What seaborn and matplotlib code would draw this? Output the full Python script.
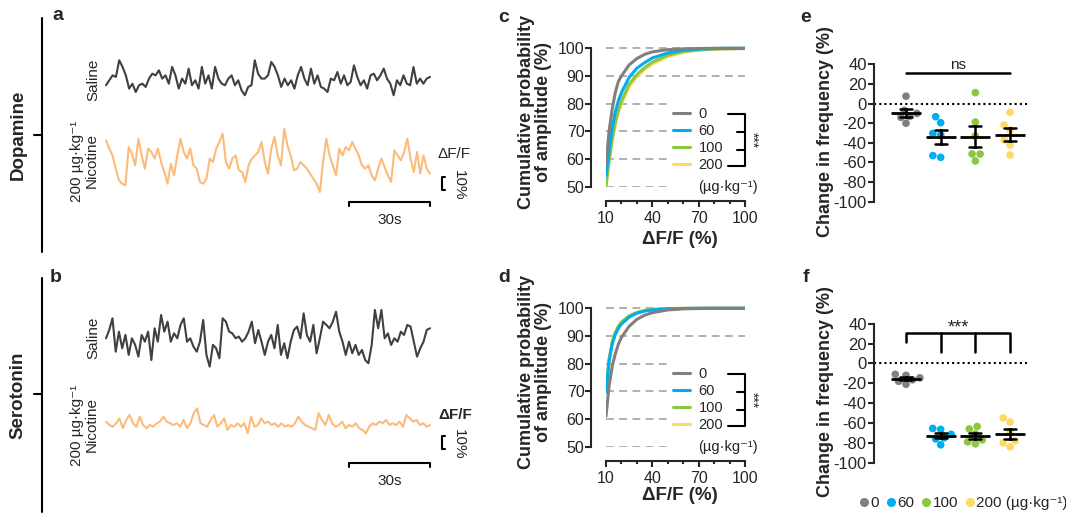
import numpy as np
import pandas as pd
import matplotlib.pyplot as plt
from matplotlib.lines import Line2D
import seaborn as sns

# ---------------------------------------------------------------
# data
# ---------------------------------------------------------------

# a/b: example photometry traces, dF/F (%) relative to each trace's baseline, ~120 s
da_saline = [-3.8, 0, 3.8, 2.6, 15.4, 10.3, 3.8, -6.4, -2.6, -9.0, -3.8, -2.6, -5.1, 1.3, 5.1,
             3.8, 7.7, 1.3, 3.8, -2.6, 10.3, 3.8, -6.4, 1.3, -2.6, 9.0, -3.8, 0, -6.4, 10.3,
             -2.6, 3.8, -6.4, 10.3, 1.3, -2.6, -3.8, 1.3, 3.8, -3.8, 0, -7.7, -11.5, -5.1, -3.8,
             15.4, 5.1, 1.3, 1.3, 3.8, 14.1, 10.3, 3.8, -5.1, 1.3, -3.8, 0, -6.4, 3.8, 10.3,
             1.3, -3.8, 9.0, -2.6, 3.8, -5.1, -6.4, -9.0, 1.3, 0, 6.4, -2.6, 3.8, -3.8, -1.3,
             11.5, 2.6, -3.8, 0, -6.4, 3.8, 5.1, 0, 3.8, 9.0, 1.3, -2.6, -11.5, 0, -3.8,
             3.8, -2.6, -3.8, 10.3, -2.6, 1.3, -2.6, 1.3, 2.6]
da_nicotine = [16.7, 10.3, 5.1, -5.1, -14.1, -16.7, -17.9, 11.5, 6.4, -2.6, 17.9, 5.1, -5.1, 10.3,
               7.7, 2.6, 10.3, 0, -7.7, -16.7, -1.3, -10.3, 5.1, 17.9, 7.7, 2.6, 10.3, -2.6, -5.1,
               -15.4, -16.7, -12.8, 2.6, 0, 10.3, 15.4, 21.8, 0, -5.1, 2.6, 5.1, -6.4, -7.7, -15.4,
               -2.6, 2.6, 5.1, 7.7, 15.4, 0, -9.0, 10.3, 19.2, 5.1, -2.6, 25.6, 12.8, 5.1, -6.4,
               -5.1, 0, -2.6, -5.1, -9.0, -12.8, -16.7, -23.1, 0, 17.9, 5.1, -2.6, -10.3, 10.3,
               5.1, 11.5, 9.0, 15.4, 10.3, 5.1, -2.6, -5.1, -2.6, -10.3, -14.1, -5.1, 2.6, -3.8,
               -10.3, -15.4, 9.0, 5.1, 1.3, 7.7, 17.9, 2.6, -7.7, 7.7, -9.0, 5.1, -5.1, -9.0]
ht_saline = [0, 6.4, 15.4, -10.3, 5.1, -7.7, 2.6, -12.8, 0, -5.1, -14.1, 2.6, -2.6, 5.1, -16.7,
             7.7, -2.6, 17.9, 5.1, 12.8, -2.6, 3.8, 0, 10.3, 15.4, -2.6, 0, -6.4, -10.3, -2.6,
             14.1, -12.8, -21.8, -5.1, -7.7, -15.4, 15.4, 12.8, 5.1, 3.8, 0, 1.3, -2.6, 0, 5.1,
             12.8, -3.8, 6.4, -2.6, -12.8, -2.6, 2.6, -7.7, 10.3, -12.8, -3.8, -15.4, -2.6, 6.4,
             9.0, 0, 19.2, 2.6, -2.6, 10.3, -11.5, 0, 12.8, 10.3, 7.7, 12.8, 20.5, 5.1, -2.6,
             -12.8, -2.6, -11.5, -5.1, -12.8, -9.0, -16.7, -19.2, -5.1, 21.8, 7.7, 21.8, 0, 3.8,
             -5.1, 0, -2.6, 5.1, 2.6, 10.3, 9.0, -2.6, -14.1, -7.7, -2.6, 6.4, 7.7]
ht_nicotine = [1.3, -1.3, -2.6, 0, 3.8, -3.8, 2.6, 6.4, 0, -2.6, 5.1, -1.3, -3.8, -1.3, -2.6, 0,
               1.3, 5.1, 1.3, 0, -1.3, 0, -2.6, 2.6, -3.8, 0, 7.7, 11.5, 0, -1.3, -2.6, 2.6, 6.4,
               -2.6, 0, 3.8, -5.1, -1.3, -2.6, 0, -2.6, 0, -7.7, 5.1, -2.6, -1.3, 3.8, 0, 1.3,
               -1.3, 0, -2.6, 0, -2.6, -1.3, -2.6, 0, 5.1, 1.3, -1.3, -2.6, -3.8, -5.1, 7.7, 2.6,
               -1.3, 6.4, 0, -2.6, -1.3, 1.3, -3.8, -1.3, -2.6, 0, -3.8, -5.1, -7.7, -2.6, 0,
               -1.3, 1.3, 0, 2.6, -1.3, 0, -1.3, 1.3, -2.6, 6.4, 3.8, 1.3, 2.6, -1.3, 0, -2.6, -1.3]
trace_seconds = 120

# c/d: cumulative probability of amplitude (%) at these dF/F values
amp_x = [10, 12, 14, 16, 18, 20, 25, 30, 35, 40, 50, 60, 70, 80, 90, 100]
doses = ["0", "60", "100", "200"]
cdf_da_0 = [58, 70, 78, 84, 88, 90, 94, 96.3, 97.8, 98.7, 99.5, 99.8, 99.9, 100, 100, 100]
cdf_da_60 = [54, 63, 71, 77, 81, 84, 89.5, 92.8, 94.8, 96.5, 98.3, 99.3, 99.7, 99.9, 100, 100]
cdf_da_100 = [50, 59, 67, 73, 77.5, 81, 87, 90.5, 93, 95, 97.5, 98.8, 99.4, 99.7, 99.8, 99.9]
cdf_da_200 = [52.5, 60, 67, 72.5, 77, 80, 86, 89.7, 92.3, 94.3, 97, 98.5, 99.3, 99.7, 99.9, 100]
cdf_ht_0 = [61, 72, 79, 83.5, 87, 89.5, 93.5, 96, 97.5, 98.4, 99.4, 99.8, 99.9, 100, 100, 100]
cdf_ht_60 = [70, 81, 87, 90.5, 92.8, 94.3, 96.8, 98.2, 99, 99.4, 99.8, 99.9, 100, 100, 100, 100]
cdf_ht_100 = [69.5, 81.5, 87.8, 91.2, 93.5, 95, 97.3, 98.5, 99.2, 99.6, 99.9, 100, 100, 100, 100, 100]
cdf_ht_200 = [70, 81.3, 87.5, 91, 93.2, 94.7, 97, 98.4, 99.1, 99.5, 99.8, 99.9, 100, 100, 100, 100]

# e/f: change in event frequency (%) per animal
freq_da_0 = [7.5, -7, -10, -13, -14, -20]
freq_da_60 = [-13.4, -19.5, -30.4, -32, -53, -54.8]
freq_da_100 = [11.1, -18.8, -33, -51.4, -51.4, -58.5]
freq_da_200 = [-9, -21.8, -27, -37, -42.3, -52.4]
freq_ht_0 = [-11, -12, -14.5, -16.5, -18, -21]
freq_ht_60 = [-65.5, -66.5, -71.5, -75, -76, -82]
freq_ht_100 = [-63.5, -66, -71, -77, -79, -81]
freq_ht_200 = [-55, -59, -69, -78, -80, -84]

cdf_colors = {"0": "#808080", "60": "#00aeef", "100": "#8dc63f", "200": "#ffd966"}
saline_color = "#404040"
nicotine_color = "#fdbb7a"

# ---------------------------------------------------------------
sns.set_style("ticks")
plt.rcParams["font.family"] = ["Liberation Sans", "DejaVu Sans"]
plt.rcParams["axes.unicode_minus"] = False
plt.rcParams["axes.linewidth"] = 1.5

W, H = 1066, 516
fig = plt.figure(figsize=(W / 100, H / 100), dpi=100)


def fx(px):
    return px / W


def fy(py):
    return 1 - py / H


def axes_px(x0, y0, x1, y1):
    return fig.add_axes([x0 / W, 1 - y1 / H, (x1 - x0) / W, (y1 - y0) / H])


def line_px(xs, ys, lw=1.5):
    fig.add_artist(Line2D([fx(x) for x in xs], [fy(y) for y in ys], color="k", lw=lw))


# ---- a / b : traces ----
PX_PER_PCT = 1.3   # 10 % = 13 px
PX_PER_S = 2.7     # 30 s = 81 px
T0_PX = 106


def trace_panel(top, bottom, zero_px, nic_zero_px, bar_px, brk_px, dff_px, sal, nic, bold_dff):
    ax = axes_px(100, top, 450, bottom)
    ax.set_xlim((100 - T0_PX) / PX_PER_S, (450 - T0_PX) / PX_PER_S)
    ax.set_ylim((zero_px - bottom) / PX_PER_PCT, (zero_px - top) / PX_PER_PCT)
    nic_off = (zero_px - nic_zero_px) / PX_PER_PCT
    t_sal = np.linspace(0, trace_seconds, len(sal))
    t_nic = np.linspace(0, trace_seconds, len(nic))
    sns.lineplot(x=t_sal, y=np.array(sal), color=saline_color, lw=1.5, ax=ax)
    sns.lineplot(x=t_nic, y=np.array(nic) + nic_off, color=nicotine_color, lw=1.5, ax=ax)

    # 30 s scale bar
    yb = (zero_px - bar_px) / PX_PER_PCT
    tb = trace_seconds - 30
    ax.plot([tb, tb, trace_seconds, trace_seconds], [yb - 3, yb, yb, yb - 3], color="k", lw=1.5)
    ax.text(tb + 15, yb - 14, "30s", ha="center", va="center", fontsize=11)

    # 10 % bracket
    y0 = (zero_px - brk_px) / PX_PER_PCT
    xb = (442 - T0_PX) / PX_PER_S
    ax.plot([xb + 1.2, xb, xb, xb + 1.2], [y0, y0, y0 - 10, y0 - 10], color="k", lw=1.5, clip_on=False)
    ax.text((438 - T0_PX) / PX_PER_S, (zero_px - dff_px) / PX_PER_PCT, "ΔF/F", ha="left",
            va="center", fontsize=11, weight="bold" if bold_dff else "normal")
    ax.text((459 - T0_PX) / PX_PER_S, y0 - 6, "10%", rotation=-90, ha="center", va="center",
            fontsize=11)
    ax.axis("off")


trace_panel(40, 240, 80.3, 162, 201.7, 177, 154, da_saline, da_nicotine, False)
trace_panel(296, 496, 338.3, 423.3, 462.7, 436, 415.3, ht_saline, ht_nicotine, True)

for yc, (yt, yb) in [(135, (18, 252)), (394, (278, 512))]:
    line_px([42, 42], [yt, yb])
    line_px([34, 42], [yc, yc])
fig.text(fx(18), fy(135), "Dopamine", rotation=90, ha="center", va="center", fontsize=13.5, weight="bold")
fig.text(fx(18), fy(395), "Serotonin", rotation=90, ha="center", va="center", fontsize=13.5, weight="bold")
for ys, yn in [(80, 161), (338, 425)]:
    fig.text(fx(93), fy(ys), "Saline", rotation=90, ha="center", va="center", fontsize=11)
    fig.text(fx(84), fy(yn), "200 µg·kg⁻¹\nNicotine", rotation=90, ha="center", va="center",
             fontsize=11, multialignment="center", linespacing=1.05)


# ---- c / d : cumulative distributions ----
def cdf_panel(top, curves):
    ax = axes_px(606, top, 745, top + 141.2)
    for dose in reversed(doses):
        sns.lineplot(x=amp_x, y=curves[dose], color=cdf_colors[dose], lw=2.2, ax=ax, label=dose,
                     zorder=3)
    for yv in [50, 60, 70, 80]:
        ax.hlines(yv, 10, 50, color="#b0b0b0", lw=1.4, ls=(0, (4, 2.8)), zorder=0)
    for yv in [90, 100]:
        ax.hlines(yv, 10, 100, color="#b0b0b0", lw=1.4, ls=(0, (4, 2.8)), zorder=0)
    ax.set_xlim(10, 100)
    ax.set_ylim(50, 101)
    sns.despine(ax=ax, offset=10.5)
    ax.spines["left"].set_bounds(50, 100)
    ax.spines["bottom"].set_bounds(10, 100)
    ax.set_yticks(range(50, 101, 10))
    ax.set_xticks([10, 40, 70, 100])
    ax.set_xticks([20, 30, 50, 60, 80, 90], minor=True)
    ax.tick_params(which="major", width=1.5, length=4, labelsize=11.5, pad=1)
    ax.tick_params(which="minor", width=1.5, length=2.5)
    ax.tick_params(axis="x", pad=3)
    ax.set_xlabel("")
    ax.set_ylabel("")

    h, l = ax.get_legend_handles_labels()
    ax.legend(h[::-1], l[::-1], loc="upper left", bbox_to_anchor=(0.482, 0.565), frameon=False,
              fontsize=10.5, handlelength=1.15, handletextpad=0.6, labelspacing=0.2,
              borderpad=0, borderaxespad=0)
    ax.text(69.6, 50, "(µg·kg⁻¹)", ha="left", va="center", fontsize=10.5)

    # significance bracket
    ax.plot([88.8, 100, 100, 88.8], [76.3, 76.3, 57.5, 57.5], color="k", lw=1.5, clip_on=False)
    for yv in [69.9, 63.3]:
        ax.plot([94.6, 100], [yv, yv], color="k", lw=1.5, clip_on=False)
    ax.text(104.3, 67, "***", rotation=-90, ha="center", va="center", fontsize=10)
    return ax


cdf_panel(45.5, dict(zip(doses, [cdf_da_0, cdf_da_60, cdf_da_100, cdf_da_200])))
cdf_panel(305.5, dict(zip(doses, [cdf_ht_0, cdf_ht_60, cdf_ht_100, cdf_ht_200])))

for ylab_c, xlab_y in [(112, 240), (372, 496)]:
    fig.text(fx(535), fy(ylab_c), "Cumulative probability\nof amplitude (%)", rotation=90,
             ha="center", va="center", multialignment="center", fontsize=13, weight="bold",
             linespacing=1.0)
    fig.text(fx(680), fy(xlab_y), "ΔF/F (%)", ha="center", va="center", fontsize=13.5, weight="bold")


# ---- e / f : frequency change ----
def freq_panel(top, bottom, groups):
    ax = axes_px(874.3, top, 1026.7, bottom)
    df = pd.DataFrame({"dose": np.repeat(doses, [len(g) for g in groups]),
                       "val": np.concatenate(groups)})
    ax.axhline(0, color="k", ls=(0, (1, 1.5)), lw=1.5, zorder=1)
    sns.swarmplot(data=df, x="dose", y="val", hue="dose", order=doses, hue_order=doses,
                  palette=cdf_colors, size=5.5, legend=False, ax=ax, zorder=2)
    sns.pointplot(data=df, x="dose", y="val", order=doses, errorbar="se", color="k",
                  marker="_", markersize=21, markeredgewidth=2, linestyle="none",
                  capsize=0.34, err_kws={"linewidth": 1.8}, ax=ax)
    ax.set_xlim(-0.914, 3.48)
    ax.set_ylim(-100, 40)
    ax.set_yticks(range(-100, 41, 20))
    ax.set_xticks([])
    for s in ["top", "right", "bottom"]:
        ax.spines[s].set_visible(False)
    ax.tick_params(axis="y", width=1.5, length=4.5, labelsize=12, pad=1)
    ax.set_xlabel("")
    ax.set_ylabel("")
    return ax


ax_e = freq_panel(64.3, 201.7, [freq_da_0, freq_da_60, freq_da_100, freq_da_200])
ax_e.plot([0, 3], [31.4, 31.4], color="k", lw=1.8)
ax_e.text(1.5, 39, "ns", ha="center", va="center", fontsize=11)

ax_f = freq_panel(323.7, 462.7, [freq_ht_0, freq_ht_60, freq_ht_100, freq_ht_200])
ax_f.plot([0, 0, 3, 3], [21.6, 31, 31, 11.8], color="k", lw=1.8)
for xc in [1, 2]:
    ax_f.plot([xc, xc], [31, 11.8], color="k", lw=1.8)
ax_f.text(1.5, 36, "***", ha="center", va="center", fontsize=13)

for yc in [132, 392]:
    fig.text(fx(826), fy(yc), "Change in frequency (%)", rotation=90, ha="center", va="center",
             fontsize=13, weight="bold")

handles = [Line2D([], [], marker="o", ls="none", color=cdf_colors[d], markersize=5.5) for d in doses]
fig.legend(handles, ["0", "60", "100", "200 (µg·kg⁻¹)"], loc="center",
           bbox_to_anchor=(fx(964), fy(503)), ncol=4, frameon=False, fontsize=11,
           handlelength=0.5, handletextpad=0.15, columnspacing=0.55, borderpad=0, borderaxespad=0)

# panel letters
for letter, x, y in [("a", 58, 16), ("b", 56, 277), ("c", 504, 17), ("d", 504, 277),
                     ("e", 806, 17), ("f", 806, 277)]:
    fig.text(fx(x), fy(y), letter, ha="center", va="center", fontsize=14, weight="bold")

fig.savefig("out.png", dpi=100)
